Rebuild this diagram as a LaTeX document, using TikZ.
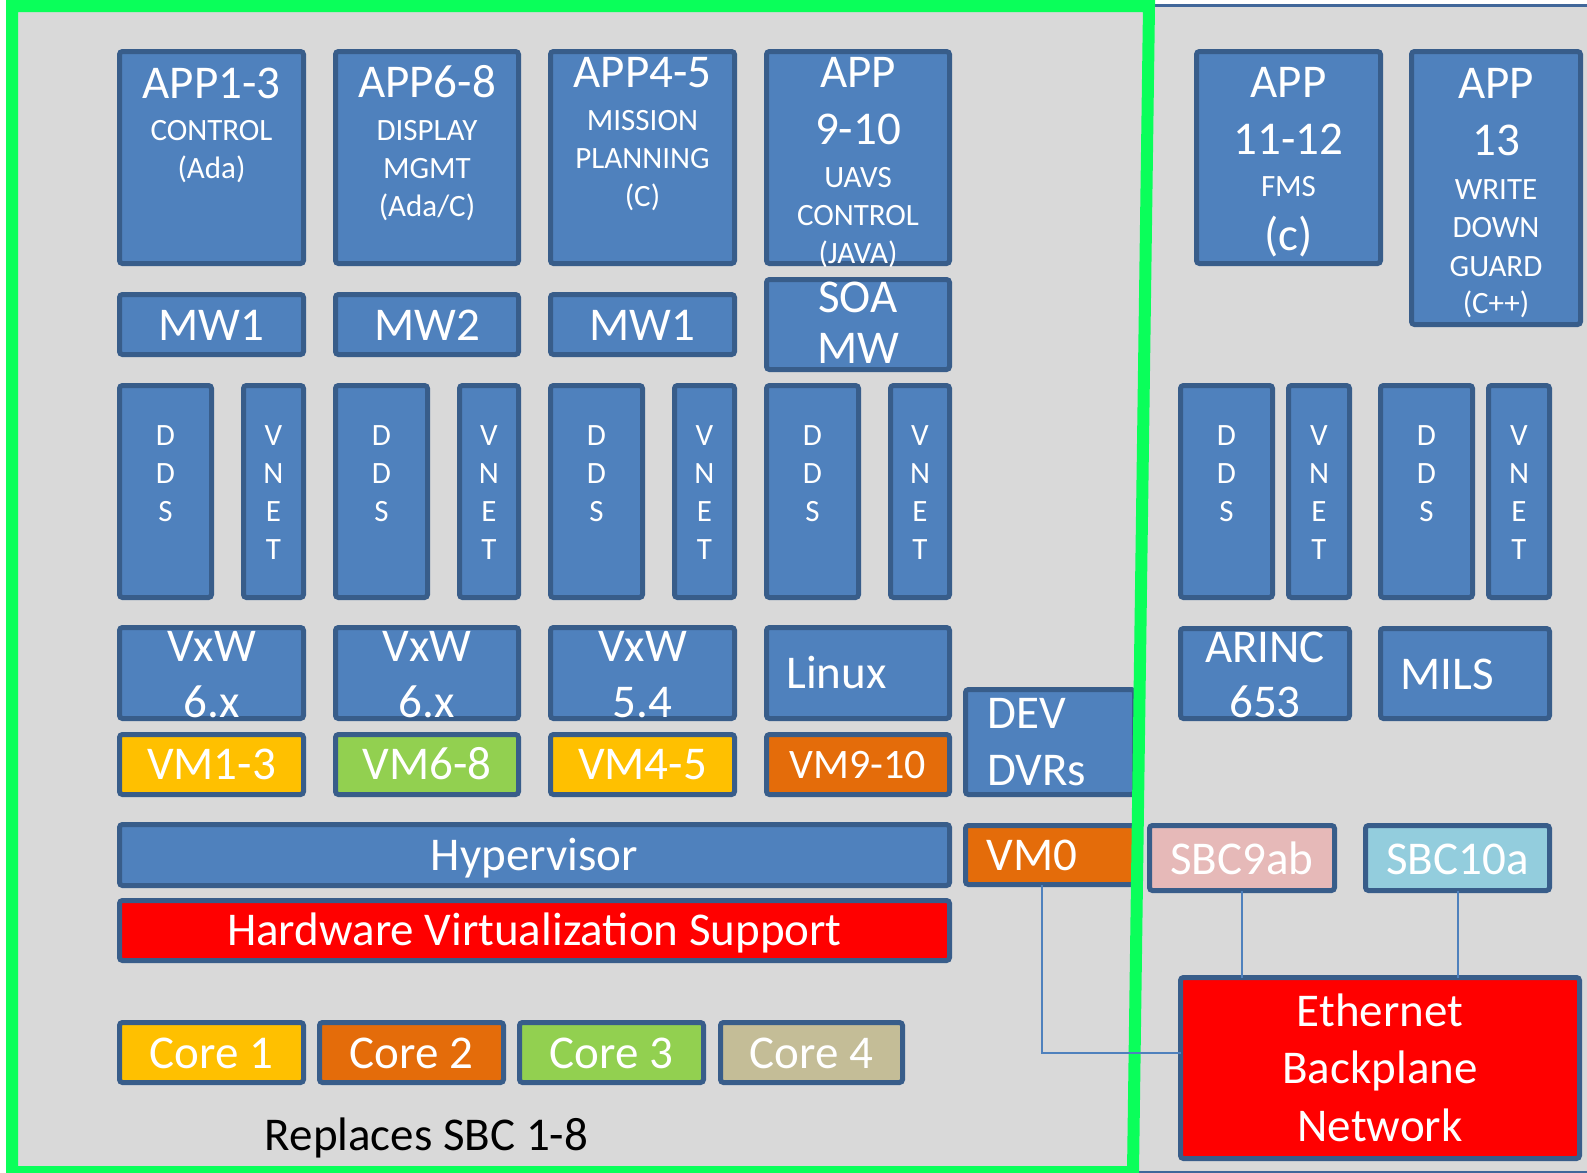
\documentclass[tikz,border=0pt]{standalone}
\usepackage{fontspec}
\setmainfont{Carlito}
\definecolor{bgray}{HTML}{D9D9D9}
\definecolor{bfill}{HTML}{4F81BD}
\definecolor{bline}{HTML}{385D8A}
\definecolor{gbord}{RGB}{10,255,90}
\definecolor{cAmber}{HTML}{FFC000}
\definecolor{cLgreen}{HTML}{92D050}
\definecolor{cOrange}{HTML}{E46C0A}
\definecolor{cTan}{HTML}{C4BD97}
\definecolor{cPink}{HTML}{E6B9B8}
\definecolor{cLblue}{HTML}{93CDDD}
\definecolor{cRed}{HTML}{FF0000}
\definecolor{pline}{HTML}{41679A}
\newcommand\fB{\fontsize{23.5}{28}\selectfont}
\newcommand\fS{\fontsize{15.5}{19}\selectfont}
\newcommand\fM{\fontsize{21}{25}\selectfont}
\newcommand\bx[6]{%
  \pgfmathsetlengthmacro\bxw{(#4-#2-5)*0.5pt}%
  \pgfmathsetlengthmacro\bxh{(#5-#3-5)*0.5pt}%
  \node[boxs, fill=#6, minimum width=\bxw, minimum height=\bxh] (#1) at ({(#2+#4)/2},{(#3+#5)/2}) {};}
\newcommand\tx[6]{\node[txt, font=#4, anchor=#5] (#1) at (#2,#3) {#6};}
\newcommand\vlet[3]{%
  \foreach \l [count=\i] in {#3} {\node[txt, font=\fS, anchor=base] (#1-\i) at (#2,{445+38*(\i-1)}) {\l};}}
\begin{document}
\begin{tikzpicture}[x=0.5pt,y=-0.5pt,
  boxs/.style={draw=bline, line width=2.5pt, rounded corners=1.5pt, inner sep=0pt, outer sep=0pt},
  txt/.style={text=white, inner sep=0pt},
  conn/.style={draw=bfill, line width=1pt}]
\useasboundingbox (0,0) rectangle (1587,1173);
\fill[white] (0,0) rectangle (1587,1173);
% right panel
\fill[bgray] (1133,5) rectangle (1600,1172);
\draw[pline, line width=1.5pt] (1133,5) -- (1600,5);
\draw[pline, line width=1.5pt] (1133,1172) -- (1600,1172);
% left panel
\fill[bgray] (12,6) -- (1149,6) -- (1133,1172) -- (12,1172) -- cycle;
% APP row
\bx{app1}{117}{49}{306}{266}{bfill}
\bx{app2}{333}{49}{521}{266}{bfill}
\bx{app3}{548}{49}{737}{266}{bfill}
\bx{app4}{764}{49}{952}{266}{bfill}
% MW row
\bx{mw1}{117}{292}{306}{357}{bfill}
\bx{mw2}{333}{292}{521}{357}{bfill}
\bx{mw3}{548}{292}{737}{357}{bfill}
\bx{soa}{764}{277}{952}{372}{bfill}
% DDS / VNET
\bx{dds1}{117}{383}{214}{600}{bfill}
\bx{vn1}{241}{383}{306}{600}{bfill}
\bx{dds2}{333}{383}{430}{600}{bfill}
\bx{vn2}{457}{383}{521}{600}{bfill}
\bx{dds3}{548}{383}{645}{600}{bfill}
\bx{vn3}{672}{383}{737}{600}{bfill}
\bx{dds4}{764}{383}{861}{600}{bfill}
\bx{vn4}{888}{383}{952}{600}{bfill}
% OS row
\bx{os1}{117}{625}{306}{721}{bfill}
\bx{os2}{333}{625}{521}{721}{bfill}
\bx{os3}{548}{625}{737}{721}{bfill}
\bx{os4}{764}{625}{952}{721}{bfill}
% VM row
\bx{vm1}{117}{732}{306}{797}{cAmber}
\bx{vm2}{333}{732}{521}{797}{cLgreen}
\bx{vm3}{548}{732}{737}{797}{cAmber}
\bx{vm4}{764}{732}{952}{797}{cOrange}
% DEV and VM0
\bx{dev}{963}{687}{1137}{797}{bfill}
\bx{vm0}{963}{823}{1137}{887}{cOrange}
% Hypervisor, HW
\bx{hyp}{117}{822}{952}{888}{bfill}
\bx{hw}{117}{898}{952}{963}{cRed}
% Cores
\bx{core1}{117}{1020}{306}{1085}{cAmber}
\bx{core2}{317}{1020}{506}{1085}{cOrange}
\bx{core3}{517}{1020}{706}{1085}{cLgreen}
\bx{core4}{718}{1020}{905}{1085}{cTan}
% right panel boxes
\bx{app5}{1194}{49}{1383}{266}{bfill}
\bx{app6}{1409}{49}{1583}{327}{bfill}
\bx{ddsr1}{1178}{383}{1275}{600}{bfill}
\bx{vnr1}{1286}{383}{1352}{600}{bfill}
\bx{ddsr2}{1378}{383}{1475}{600}{bfill}
\bx{vnr2}{1486}{383}{1552}{600}{bfill}
\bx{arinc}{1178}{626}{1352}{721}{bfill}
\bx{mils}{1378}{626}{1552}{721}{bfill}
\bx{sbc9}{1147}{823}{1337}{893}{cPink}
\bx{sbc10}{1363}{823}{1552}{893}{cLblue}
\bx{eth}{1178}{975}{1582}{1161}{cRed}
% green border
\draw[gbord, line width=6pt] (12,6) -- (1149,6) -- (1133,1172) -- (12,1172) -- cycle;
% texts
\tx{t1a}{211.5}{98}{\fB}{base}{APP1-3}
\tx{t1b}{211.5}{140}{\fS}{base}{CONTROL}
\tx{t1c}{211.5}{178}{\fS}{base}{(Ada)}
\tx{t2a}{427}{97}{\fB}{base}{APP6-8}
\tx{t2b}{427}{140}{\fS}{base}{DISPLAY}
\tx{t2c}{427}{178}{\fS}{base}{MGMT}
\tx{t2d}{427}{216}{\fS}{base}{(Ada/C)}
\tx{t3a}{642.5}{87}{\fB}{base}{APP4-5}
\tx{t3b}{642.5}{130}{\fS}{base}{MISSION}
\tx{t3c}{642.5}{168}{\fS}{base}{PLANNING}
\tx{t3d}{642.5}{206}{\fS}{base}{(C)}
\tx{t4a}{858}{87}{\fB}{base}{APP}
\tx{t4b}{858}{144}{\fB}{base}{9-10}
\tx{t4c}{858}{187}{\fS}{base}{UAVS}
\tx{t4d}{858}{225}{\fS}{base}{CONTROL}
\tx{t4e}{858}{263}{\fS}{base}{(JAVA)}
\tx{tmw1}{211.5}{340}{\fB}{base}{MW1}
\tx{tmw2}{427}{340}{\fB}{base}{MW2}
\tx{tmw3}{642.5}{340}{\fB}{base}{MW1}
\tx{tsoa}{858}{312}{\fB}{base}{SOA}
\tx{tsoab}{858}{363}{\fB}{base}{MW}
\vlet{l1}{165.5}{D,D,S}
\vlet{l2}{273.5}{V,N,E,T}
\vlet{l3}{381.5}{D,D,S}
\vlet{l4}{489}{V,N,E,T}
\vlet{l5}{596.5}{D,D,S}
\vlet{l6}{704.5}{V,N,E,T}
\vlet{l7}{812.5}{D,D,S}
\vlet{l8}{920}{V,N,E,T}
\vlet{l9}{1226.5}{D,D,S}
\vlet{l10}{1319}{V,N,E,T}
\vlet{l11}{1426.5}{D,D,S}
\vlet{l12}{1519}{V,N,E,T}
\tx{to1a}{211.5}{661}{\fB}{base}{VxW}
\tx{to1b}{211.5}{717}{\fB}{base}{6.x}
\tx{to2a}{427}{661}{\fB}{base}{VxW}
\tx{to2b}{427}{717}{\fB}{base}{6.x}
\tx{to3a}{642.5}{661}{\fB}{base}{VxW}
\tx{to3b}{642.5}{717}{\fB}{base}{5.4}
\tx{to4}{836.5}{688}{\fB}{base}{Linux}
\tx{tvm1}{211.5}{779}{\fB}{base}{VM1-3}
\tx{tvm2}{427}{779}{\fB}{base}{VM6-8}
\tx{tvm3}{642.5}{779}{\fB}{base}{VM4-5}
\tx{tvm4}{858}{778}{\fM}{base}{VM9-10}
\tx{tdev}{987}{728}{\fB}{base west}{DEV}
\tx{tdvr}{987}{785}{\fB}{base west}{DVRs}
\tx{tvm0}{986}{870}{\fB}{base west}{VM0}
\tx{thyp}{534.5}{870}{\fB}{base}{Hypervisor}
\tx{thw}{534.5}{945}{\fB}{base}{Hardware Virtualization Support}
\tx{tc1}{211.5}{1068}{\fB}{base}{Core 1}
\tx{tc2}{411.5}{1068}{\fB}{base}{Core 2}
\tx{tc3}{611.5}{1068}{\fB}{base}{Core 3}
\tx{tc4}{811.5}{1068}{\fB}{base}{Core 4}
\node[inner sep=0pt, font=\fB, anchor=base, text=black] (trep) at (426.5,1150) {Replaces SBC 1-8};
\tx{t5a}{1288.5}{97}{\fB}{base}{APP}
\tx{t5b}{1288.5}{154}{\fB}{base}{11-12}
\tx{t5c}{1288.5}{196}{\fS}{base}{FMS}
\tx{t5d}{1288.5}{250}{\fB}{base}{(c)}
\tx{t6a}{1496}{98}{\fB}{base}{APP}
\tx{t6b}{1496}{155}{\fB}{base}{13}
\tx{t6c}{1496}{199}{\fS}{base}{WRITE}
\tx{t6d}{1496}{237}{\fS}{base}{DOWN}
\tx{t6e}{1496}{276}{\fS}{base}{GUARD}
\tx{t6f}{1496}{313}{\fS}{base}{(C++)}
\tx{tara}{1265}{662}{\fB}{base}{ARINC}
\tx{tarb}{1265}{717}{\fB}{base}{653}
\tx{tmils}{1447}{689}{\fB}{base}{MILS}
\tx{tsbc9}{1242}{874}{\fB}{base}{SBC9ab}
\tx{tsbc10}{1457.5}{874}{\fB}{base}{SBC10a}
\tx{teth1}{1380}{1026}{\fB}{base}{Ethernet}
\tx{teth2}{1380}{1083}{\fB}{base}{Backplane}
\tx{teth3}{1380}{1141}{\fB}{base}{Network}
% connectors
\coordinate (vmx) at (1042,1053);
\draw[conn] (vm0.south -| vmx) |- (eth.west |- vmx);
\draw[conn] (sbc9.south) -- (sbc9.south |- eth.north);
\draw[conn] (sbc10.south) -- (sbc10.south |- eth.north);
\end{tikzpicture}
\end{document}
